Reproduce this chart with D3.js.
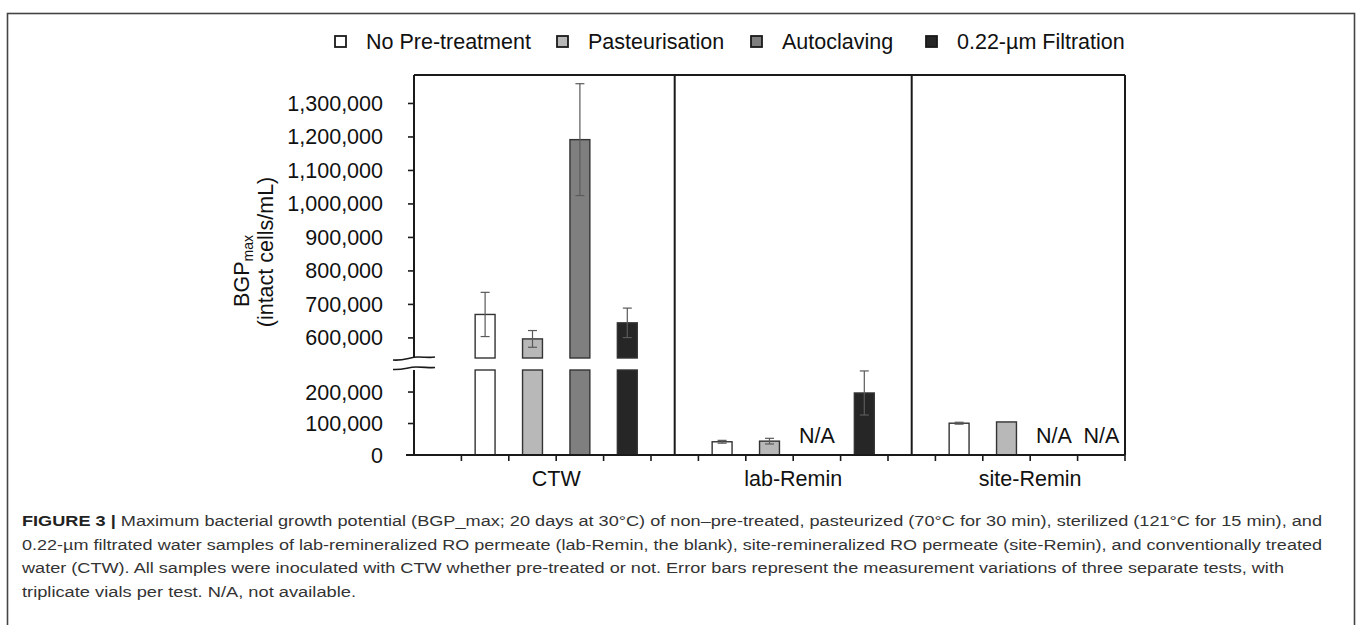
<html>
  <head>
    <style>
      body { margin: 0; background: #fff; }
      text { font-family: "Liberation Sans", Arial, sans-serif; fill: #111; }
      .cap text { fill: #333; }
    </style>
  </head>
  <body>
    <script src="https://d3js.org/d3.v7.min.js"></script>
    <script>
    //chart values
    var groups = ["CTW", "lab-Remin", "site-Remin"];
    var treatments = ["No Pre-treatment", "Pasteurisation", "Autoclaving", "0.22-\u00b5m Filtration"];
    var fills = ["#ffffff", "#b8b8b8", "#7f7f7f", "#262626"];

    var ctwValues = [670000, 597000, 1192000, 645000];
    var ctwErrors = [66000, 25000, 167000, 44000];
    var labValues = [42000, 44000, null, 197000];
    var labErrors = [4500, 9000, null, 70000];
    var siteValues = [101000, 105000, null, null];
    var siteErrors = [3000, 0, null, null];

    var upperTicks = [600000, 700000, 800000, 900000, 1000000, 1100000, 1200000, 1300000];
    var lowerTicks = [0, 100000, 200000];

    var captionLines = [
      "Maximum bacterial growth potential (BGP_max; 20 days at 30\u00b0C) of non\u2013pre-treated, pasteurized (70\u00b0C for 30 min), sterilized (121\u00b0C for 15 min), and",
      "0.22-\u00b5m filtrated water samples of lab-remineralized RO permeate (lab-Remin, the blank), site-remineralized RO permeate (site-Remin), and conventionally treated",
      "water (CTW). All samples were inoculated with CTW whether pre-treated or not. Error bars represent the measurement variations of three separate tests, with",
      "triplicate vials per test. N/A, not available."
    ];

    var width = 1358, height = 625;
    var svg = d3.select("body").append("svg")
        .attr("width", width)
        .attr("height", height);

    //outer figure frame (runs off the bottom)
    svg.append("rect")
        .attr("x", 7.5).attr("y", 13.5)
        .attr("width", 1347).attr("height", 700)
        .attr("fill", "none").attr("stroke", "#444").attr("stroke-width", 1.6);

    //one slot per bar, plus an empty slot in front of each group
    var slots = [];
    var rows = [];
    var allValues = [ctwValues, labValues, siteValues];
    var allErrors = [ctwErrors, labErrors, siteErrors];
    groups.forEach(function(g, gi) {
      slots.push("gap-" + gi);
      treatments.forEach(function(t, ti) {
        var key = g + "|" + ti;
        slots.push(key);
        rows.push({ key: key, group: g, t: ti, value: allValues[gi][ti], err: allErrors[gi][ti] });
      });
    });

    var plotLeft = 414, plotRight = 1125, plotTop = 75, plotBase = 455;
    var x = d3.scaleBand().domain(slots).range([plotLeft, plotRight]).padding(0);

    //broken axis: two linear pieces
    var yLow = d3.scaleLinear().domain([0, 270000]).range([plotBase, 370]);
    var yUp = d3.scaleLinear().domain([540000, 1385000]).range([358, plotTop]);
    function y(v) { return v >= 540000 ? yUp(v) : yLow(v); }

    var barW = x.bandwidth() * 0.42;

    //bars
    var bars = svg.append("g");
    rows.filter(function(d) { return d.value != null; }).forEach(function(d) {
      var bx = x(d.key) + (x.bandwidth() - barW) / 2;
      if (d.value >= 540000) {
        bars.append("rect")
            .attr("x", bx).attr("y", yLow(270000))
            .attr("width", barW).attr("height", plotBase - yLow(270000))
            .attr("fill", fills[d.t]).attr("stroke", "#333").attr("stroke-width", 1.4);
        bars.append("rect")
            .attr("x", bx).attr("y", yUp(d.value))
            .attr("width", barW).attr("height", yUp(540000) - yUp(d.value))
            .attr("fill", fills[d.t]).attr("stroke", "#333").attr("stroke-width", 1.4);
      } else {
        bars.append("rect")
            .attr("x", bx).attr("y", y(d.value))
            .attr("width", barW).attr("height", plotBase - y(d.value))
            .attr("fill", fills[d.t]).attr("stroke", "#333").attr("stroke-width", 1.4);
      }
      //error bar
      if (d.err > 0) {
        var cx = x(d.key) + x.bandwidth() / 2;
        var eg = bars.append("g").attr("stroke", "#5a5a5a").attr("stroke-width", 1.2);
        eg.append("line").attr("x1", cx).attr("x2", cx)
            .attr("y1", y(d.value + d.err)).attr("y2", y(d.value - d.err));
        [d.value + d.err, d.value - d.err].forEach(function(v) {
          eg.append("line").attr("x1", cx - 4.5).attr("x2", cx + 4.5)
              .attr("y1", y(v)).attr("y2", y(v));
        });
      }
    });

    //N/A labels
    rows.filter(function(d) { return d.value == null; }).forEach(function(d) {
      svg.append("text")
          .attr("x", x(d.key) + x.bandwidth() / 2)
          .attr("y", 443)
          .attr("text-anchor", "middle")
          .attr("font-size", 21.5)
          .text("N/A");
    });

    //frame: top, right and group dividers
    var frame = svg.append("g").attr("stroke", "#1a1a1a").attr("stroke-width", 2).attr("fill", "none");
    frame.append("line").attr("x1", plotLeft).attr("x2", plotRight).attr("y1", plotTop).attr("y2", plotTop);
    frame.append("line").attr("x1", plotRight).attr("x2", plotRight).attr("y1", plotTop).attr("y2", plotBase);
    ["gap-1", "gap-2"].forEach(function(k) {
      var dx = x(k) + x.bandwidth() / 2;
      frame.append("line").attr("x1", dx).attr("x2", dx).attr("y1", plotTop).attr("y2", plotBase);
    });

    //x axis with ticks at slot boundaries
    var xa = svg.append("g").attr("stroke", "#1a1a1a");
    xa.append("line").attr("x1", plotLeft - 8).attr("x2", plotRight).attr("y1", plotBase).attr("y2", plotBase).attr("stroke-width", 2);
    slots.forEach(function(s, i) {
      var tx = i + 1 < slots.length ? x(slots[i + 1]) : plotRight;
      xa.append("line").attr("x1", tx).attr("x2", tx).attr("y1", plotBase).attr("y2", plotBase + 6).attr("stroke-width", 1.6);
    });
    groups.forEach(function(g) {
      svg.append("text")
          .attr("x", x(g + "|2"))
          .attr("y", 486)
          .attr("text-anchor", "middle")
          .attr("font-size", 21.5)
          .text(g);
    });

    //y axis, drawn in two pieces
    var ya = svg.append("g").attr("stroke", "#1a1a1a").attr("stroke-width", 2);
    ya.append("line").attr("x1", plotLeft).attr("x2", plotLeft).attr("y1", plotTop).attr("y2", 358);
    ya.append("line").attr("x1", plotLeft).attr("x2", plotLeft).attr("y1", 370).attr("y2", plotBase);
    upperTicks.forEach(function(t) {
      ya.append("line").attr("x1", plotLeft - 6).attr("x2", plotLeft).attr("y1", yUp(t)).attr("y2", yUp(t)).attr("stroke-width", 1.6);
    });
    lowerTicks.forEach(function(t) {
      ya.append("line").attr("x1", plotLeft - 6).attr("x2", plotLeft).attr("y1", yLow(t)).attr("y2", yLow(t)).attr("stroke-width", 1.6);
    });
    var fmt = d3.format(",");
    upperTicks.forEach(function(t) {
      svg.append("text").attr("x", 383).attr("y", yUp(t)).attr("dy", "0.35em")
          .attr("text-anchor", "end").attr("font-size", 21.5).text(fmt(t));
    });
    lowerTicks.forEach(function(t) {
      svg.append("text").attr("x", 383).attr("y", yLow(t)).attr("dy", "0.35em")
          .attr("text-anchor", "end").attr("font-size", 21.5).text(fmt(t));
    });

    //break marks
    var brk = svg.append("g").attr("stroke", "#1a1a1a").attr("stroke-width", 1.6).attr("fill", "none");
    brk.append("path").attr("d", "M393,360 C404,361 410,357 418,357 C425,357 430,358 435,357");
    brk.append("path").attr("d", "M393,369.5 C404,370 408,367 416,367 C424,367 430,368 435,367.5");

    //axis title
    var t1 = svg.append("text")
        .attr("transform", "translate(249,271) rotate(-90)")
        .attr("text-anchor", "middle")
        .attr("font-size", 21.5);
    t1.append("tspan").text("BGP");
    t1.append("tspan").attr("font-size", 14).attr("dy", 4).text("max");
    svg.append("text")
        .attr("transform", "translate(273,252) rotate(-90)")
        .attr("text-anchor", "middle")
        .attr("font-size", 21.5)
        .text("(intact cells/mL)");

    //legend
    var legX = [335, 557, 751, 926];
    var legend = svg.append("g");
    treatments.forEach(function(t, i) {
      legend.append("rect")
          .attr("x", legX[i]).attr("y", 36)
          .attr("width", 11).attr("height", 11)
          .attr("fill", fills[i]).attr("stroke", "#1a1a1a").attr("stroke-width", 1.8);
      legend.append("text")
          .attr("x", legX[i] + 31).attr("y", 49)
          .attr("font-size", 21.5)
          .text(t);
    });

    //caption
    var cap = svg.append("g").attr("class", "cap");
    var capY = [526, 549.5, 573, 596.5];
    var capEnd = [1322, 1322, 1284, 356];
    captionLines.forEach(function(line, i) {
      var tx = cap.append("text")
          .attr("x", 22).attr("y", capY[i])
          .attr("font-size", 15.5)
          .attr("textLength", capEnd[i] - 22)
          .attr("lengthAdjust", "spacingAndGlyphs");
      if (i === 0) {
        tx.append("tspan").attr("font-weight", "bold").style("fill", "#222").text("FIGURE 3 | ");
      }
      tx.append("tspan").text(line);
    });
    </script>
  </body>
</html>
